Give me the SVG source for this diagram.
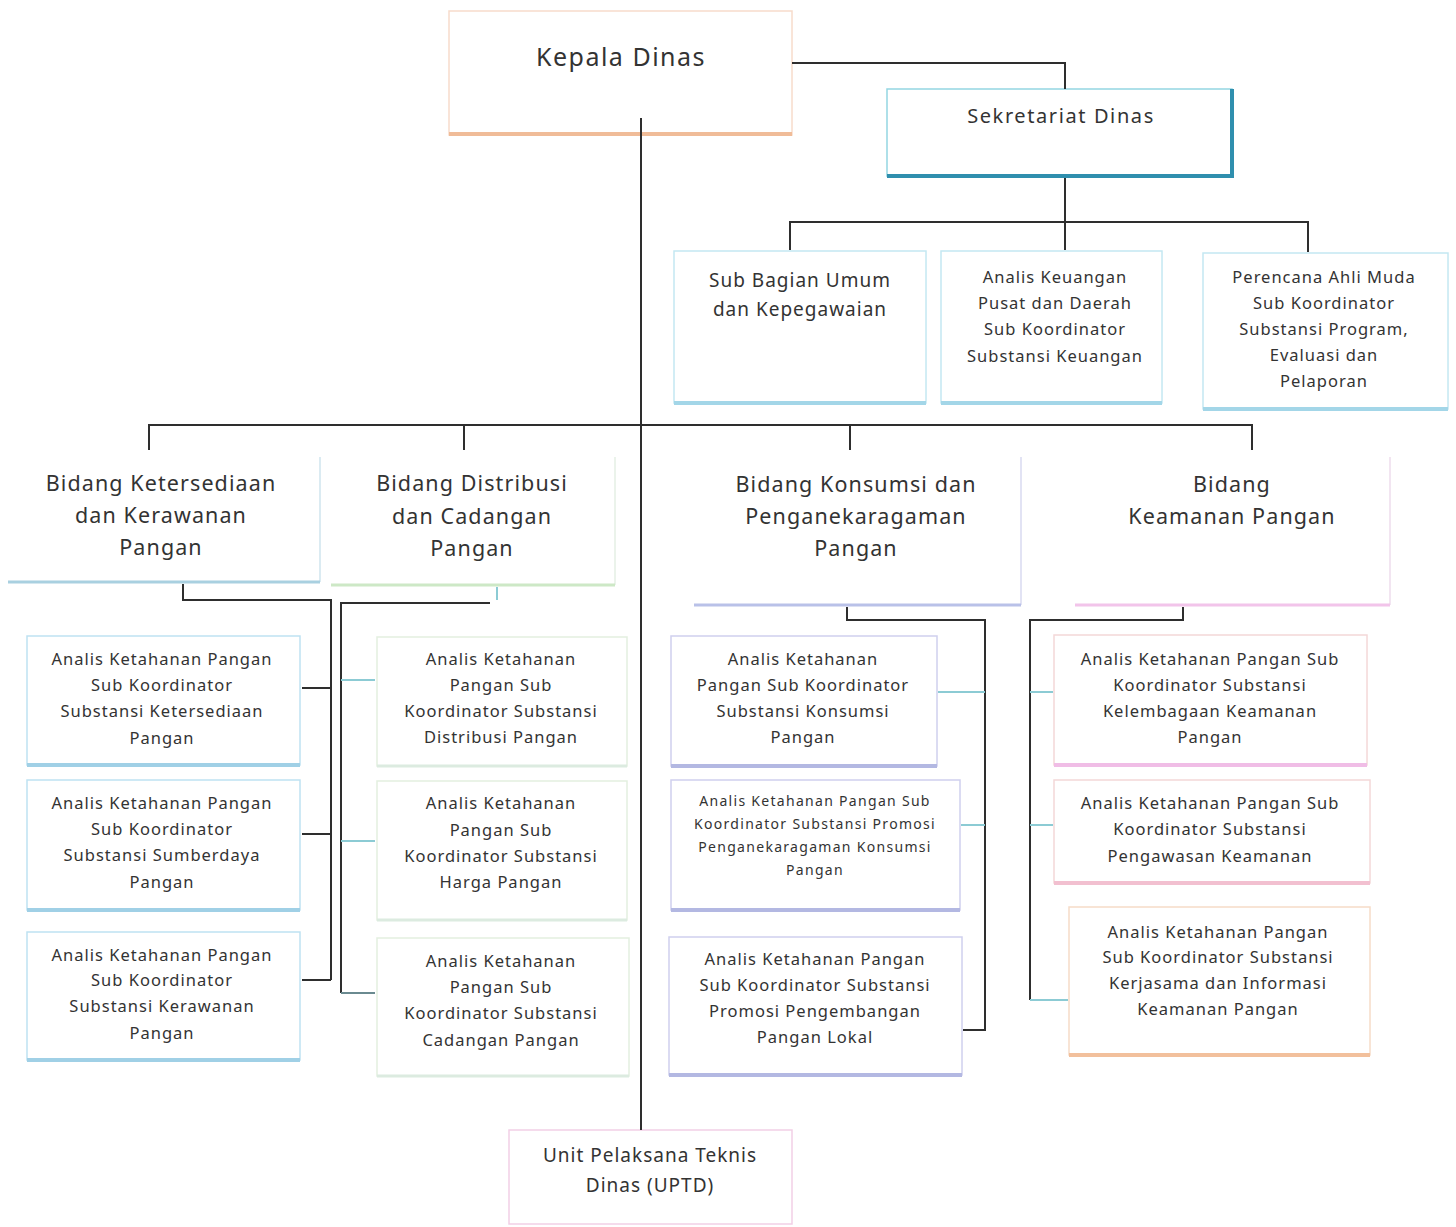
<svg xmlns="http://www.w3.org/2000/svg" width="1456" height="1227" viewBox="0 0 1456 1227">
<style>
text{font-family:"Noto Sans","DejaVu Sans",sans-serif;fill:#333;text-anchor:middle;}
.f26{font-size:25px;letter-spacing:1.5px}.f22{font-size:21.5px;letter-spacing:1.1px}.f20{font-size:19px;letter-spacing:1px}.f17{font-size:16.5px;letter-spacing:1px}.f15{font-size:14px;letter-spacing:1.3px}
.sek{font-size:20px;letter-spacing:1.6px}
.box{fill:#fff;stroke-width:1.5}
.ln{stroke:#2e2e2e;stroke-width:2;fill:none}
.lt{stroke:#8ccbd4;stroke-width:2;fill:none}
</style>
<rect width="1456" height="1227" fill="#fff"/>
<g id="kepala">
<rect class="box" x="449" y="11" width="343" height="124" stroke="#f7dccb"/>
<path d="M449 134H792" stroke="#f0bc98" stroke-width="4"/>
<text class="f26" x="621" y="66">Kepala Dinas</text>
</g>
<g id="sekretariat">
<rect class="box" x="887" y="89" width="345" height="87" stroke="#94d6e2"/>
<path d="M887 176H1232V89" stroke="#2f8fae" stroke-width="4" fill="none"/>
<text class="sek" x="1061" y="123">Sekretariat Dinas</text>
</g>
<g id="subbag">
<rect class="box" x="674" y="251" width="252" height="152" stroke="#c4e8f2"/>
<path d="M674 403H926" stroke="#a3d6e8" stroke-width="4"/>
<text class="f20" x="800" y="287">Sub Bagian Umum</text>
<text class="f20" x="800" y="316">dan Kepegawaian</text>
</g>
<g id="keuangan">
<rect class="box" x="941" y="251" width="221" height="152" stroke="#c4e8f2"/>
<path d="M941 403H1162" stroke="#a3d6e8" stroke-width="4"/>
<text class="f17" x="1055" y="283">Analis Keuangan</text>
<text class="f17" x="1055" y="309">Pusat dan Daerah</text>
<text class="f17" x="1055" y="335">Sub Koordinator</text>
<text class="f17" x="1055" y="362">Substansi Keuangan</text>
</g>
<g id="perencana">
<rect class="box" x="1203" y="253" width="245" height="156" stroke="#c4e8f2"/>
<path d="M1203 409H1448" stroke="#a3d6e8" stroke-width="4"/>
<text class="f17" x="1324" y="283">Perencana Ahli Muda</text>
<text class="f17" x="1324" y="309">Sub Koordinator</text>
<text class="f17" x="1324" y="335">Substansi Program,</text>
<text class="f17" x="1324" y="361">Evaluasi dan</text>
<text class="f17" x="1324" y="387">Pelaporan</text>
</g>
<g id="bidang-ketersediaan">
<path d="M320 457V582" stroke="#cfe4ee" stroke-width="1.5"/>
<path d="M8 582H320" stroke="#a9d0e0" stroke-width="3"/>
<text class="f22" x="161" y="491">Bidang Ketersediaan</text>
<text class="f22" x="161" y="523">dan Kerawanan</text>
<text class="f22" x="161" y="555">Pangan</text>
</g>
<g id="bidang-distribusi">
<path d="M615 457V585" stroke="#e4efe4" stroke-width="1.5"/>
<path d="M331 585H615" stroke="#cde8c6" stroke-width="3"/>
<text class="f22" x="472" y="491">Bidang Distribusi</text>
<text class="f22" x="472" y="524">dan Cadangan</text>
<text class="f22" x="472" y="556">Pangan</text>
</g>
<g id="bidang-konsumsi">
<path d="M1021 457V605" stroke="#d8daf0" stroke-width="1.5"/>
<path d="M694 605H1021" stroke="#b9c1e8" stroke-width="3"/>
<text class="f22" x="856" y="492">Bidang Konsumsi dan</text>
<text class="f22" x="856" y="524">Penganekaragaman</text>
<text class="f22" x="856" y="556">Pangan</text>
</g>
<g id="bidang-keamanan">
<path d="M1390 457V605" stroke="#eedcec" stroke-width="1.5"/>
<path d="M1075 605H1390" stroke="#f2c4ea" stroke-width="3"/>
<text class="f22" x="1232" y="492">Bidang</text>
<text class="f22" x="1232" y="524">Keamanan Pangan</text>
</g>
<g id="ket-1">
<rect class="box" x="27" y="636" width="273" height="129" stroke="#bfe2f2"/>
<path d="M27 765H300" stroke="#a0d0e6" stroke-width="4"/>
<text class="f17" x="162" y="665">Analis Ketahanan Pangan</text>
<text class="f17" x="162" y="691">Sub Koordinator</text>
<text class="f17" x="162" y="717">Substansi Ketersediaan</text>
<text class="f17" x="162" y="744">Pangan</text>
</g>
<g id="ket-2">
<rect class="box" x="27" y="780" width="273" height="130" stroke="#bfe2f2"/>
<path d="M27 910H300" stroke="#a0d0e6" stroke-width="4"/>
<text class="f17" x="162" y="809">Analis Ketahanan Pangan</text>
<text class="f17" x="162" y="835">Sub Koordinator</text>
<text class="f17" x="162" y="861">Substansi Sumberdaya</text>
<text class="f17" x="162" y="888">Pangan</text>
</g>
<g id="ket-3">
<rect class="box" x="27" y="932" width="273" height="128" stroke="#bfe2f2"/>
<path d="M27 1060H300" stroke="#a0d0e6" stroke-width="4"/>
<text class="f17" x="162" y="961">Analis Ketahanan Pangan</text>
<text class="f17" x="162" y="986">Sub Koordinator</text>
<text class="f17" x="162" y="1012">Substansi Kerawanan</text>
<text class="f17" x="162" y="1039">Pangan</text>
</g>
<g id="dis-1">
<rect class="box" x="377" y="637" width="250" height="129" stroke="#e3efe0"/>
<path d="M377 766H627" stroke="#dcebe0" stroke-width="3"/>
<text class="f17" x="501" y="665">Analis Ketahanan</text>
<text class="f17" x="501" y="691">Pangan Sub</text>
<text class="f17" x="501" y="717">Koordinator Substansi</text>
<text class="f17" x="501" y="743">Distribusi Pangan</text>
</g>
<g id="dis-2">
<rect class="box" x="377" y="781" width="250" height="139" stroke="#e3efe0"/>
<path d="M377 920H627" stroke="#dcebe0" stroke-width="3"/>
<text class="f17" x="501" y="809">Analis Ketahanan</text>
<text class="f17" x="501" y="836">Pangan Sub</text>
<text class="f17" x="501" y="862">Koordinator Substansi</text>
<text class="f17" x="501" y="888">Harga Pangan</text>
</g>
<g id="dis-3">
<rect class="box" x="377" y="938" width="252" height="138" stroke="#e3efe0"/>
<path d="M377 1076H629" stroke="#dcebe0" stroke-width="3"/>
<text class="f17" x="501" y="967">Analis Ketahanan</text>
<text class="f17" x="501" y="993">Pangan Sub</text>
<text class="f17" x="501" y="1019">Koordinator Substansi</text>
<text class="f17" x="501" y="1046">Cadangan Pangan</text>
</g>
<g id="kon-1">
<rect class="box" x="671" y="636" width="266" height="130" stroke="#cfd0ee"/>
<path d="M671 766H937" stroke="#b3b8e2" stroke-width="4"/>
<text class="f17" x="803" y="665">Analis Ketahanan</text>
<text class="f17" x="803" y="691">Pangan Sub Koordinator</text>
<text class="f17" x="803" y="717">Substansi Konsumsi</text>
<text class="f17" x="803" y="743">Pangan</text>
</g>
<g id="kon-2">
<rect class="box" x="671" y="780" width="289" height="130" stroke="#cfd0ee"/>
<path d="M671 910H960" stroke="#b3b8e2" stroke-width="4"/>
<text class="f15" x="815" y="806">Analis Ketahanan Pangan Sub</text>
<text class="f15" x="815" y="829">Koordinator Substansi Promosi</text>
<text class="f15" x="815" y="852">Penganekaragaman Konsumsi</text>
<text class="f15" x="815" y="875">Pangan</text>
</g>
<g id="kon-3">
<rect class="box" x="669" y="937" width="293" height="138" stroke="#cfd0ee"/>
<path d="M669 1075H962" stroke="#b3b8e2" stroke-width="4"/>
<text class="f17" x="815" y="965">Analis Ketahanan Pangan</text>
<text class="f17" x="815" y="991">Sub Koordinator Substansi</text>
<text class="f17" x="815" y="1017">Promosi Pengembangan</text>
<text class="f17" x="815" y="1043">Pangan Lokal</text>
</g>
<g id="kea-1">
<rect class="box" x="1054" y="635" width="313" height="130" stroke="#f4d8d8"/>
<path d="M1054 765H1367" stroke="#f0bde6" stroke-width="4"/>
<text class="f17" x="1210" y="665">Analis Ketahanan Pangan Sub</text>
<text class="f17" x="1210" y="691">Koordinator Substansi</text>
<text class="f17" x="1210" y="717">Kelembagaan Keamanan</text>
<text class="f17" x="1210" y="743">Pangan</text>
</g>
<g id="kea-2">
<rect class="box" x="1054" y="780" width="316" height="103" stroke="#f4d8d8"/>
<path d="M1054 883H1370" stroke="#f2c0d0" stroke-width="4"/>
<text class="f17" x="1210" y="809">Analis Ketahanan Pangan Sub</text>
<text class="f17" x="1210" y="835">Koordinator Substansi</text>
<text class="f17" x="1210" y="862">Pengawasan Keamanan</text>
</g>
<g id="kea-3">
<rect class="box" x="1069" y="907" width="301" height="148" stroke="#f6dcc8"/>
<path d="M1069 1055H1370" stroke="#f2c09c" stroke-width="4"/>
<text class="f17" x="1218" y="938">Analis Ketahanan Pangan</text>
<text class="f17" x="1218" y="963">Sub Koordinator Substansi</text>
<text class="f17" x="1218" y="989">Kerjasama dan Informasi</text>
<text class="f17" x="1218" y="1015">Keamanan Pangan</text>
</g>
<g id="uptd">
<rect class="box" x="509" y="1130" width="283" height="94" stroke="#f2cfe6"/>
<text class="f20" x="650" y="1162">Unit Pelaksana Teknis</text>
<text class="f20" x="650" y="1192">Dinas (UPTD)</text>
</g>
<g id="connectors">
<path class="ln" d="M792 63H1065V89"/>
<path class="ln" d="M641 118V1130"/>
<path class="ln" d="M1065 178V222M790 250V222H1308V252M1065 222V250"/>
<path class="ln" d="M149 450V425H1252V450M464 425V450M850 425V450"/>
<path class="ln" d="M183 584V600H331V980M302 688H331M302 834H331M302 980H331"/>
<path class="ln" d="M341 993V603H490"/>
<path class="lt" d="M497 587V600"/>
<path class="lt" d="M341 680H375M341 841H375"/>
<path class="ln" d="M341 993H375" style="stroke:#6a8a90"/>
<path class="ln" d="M847 607V620H985V1030H963"/>
<path class="lt" d="M938 692H985M961 825H985"/>
<path class="ln" d="M1183 607V620H1030V1000"/>
<path class="lt" d="M1030 692H1053M1030 825H1053M1030 1000H1068"/>
</g>
</svg>
